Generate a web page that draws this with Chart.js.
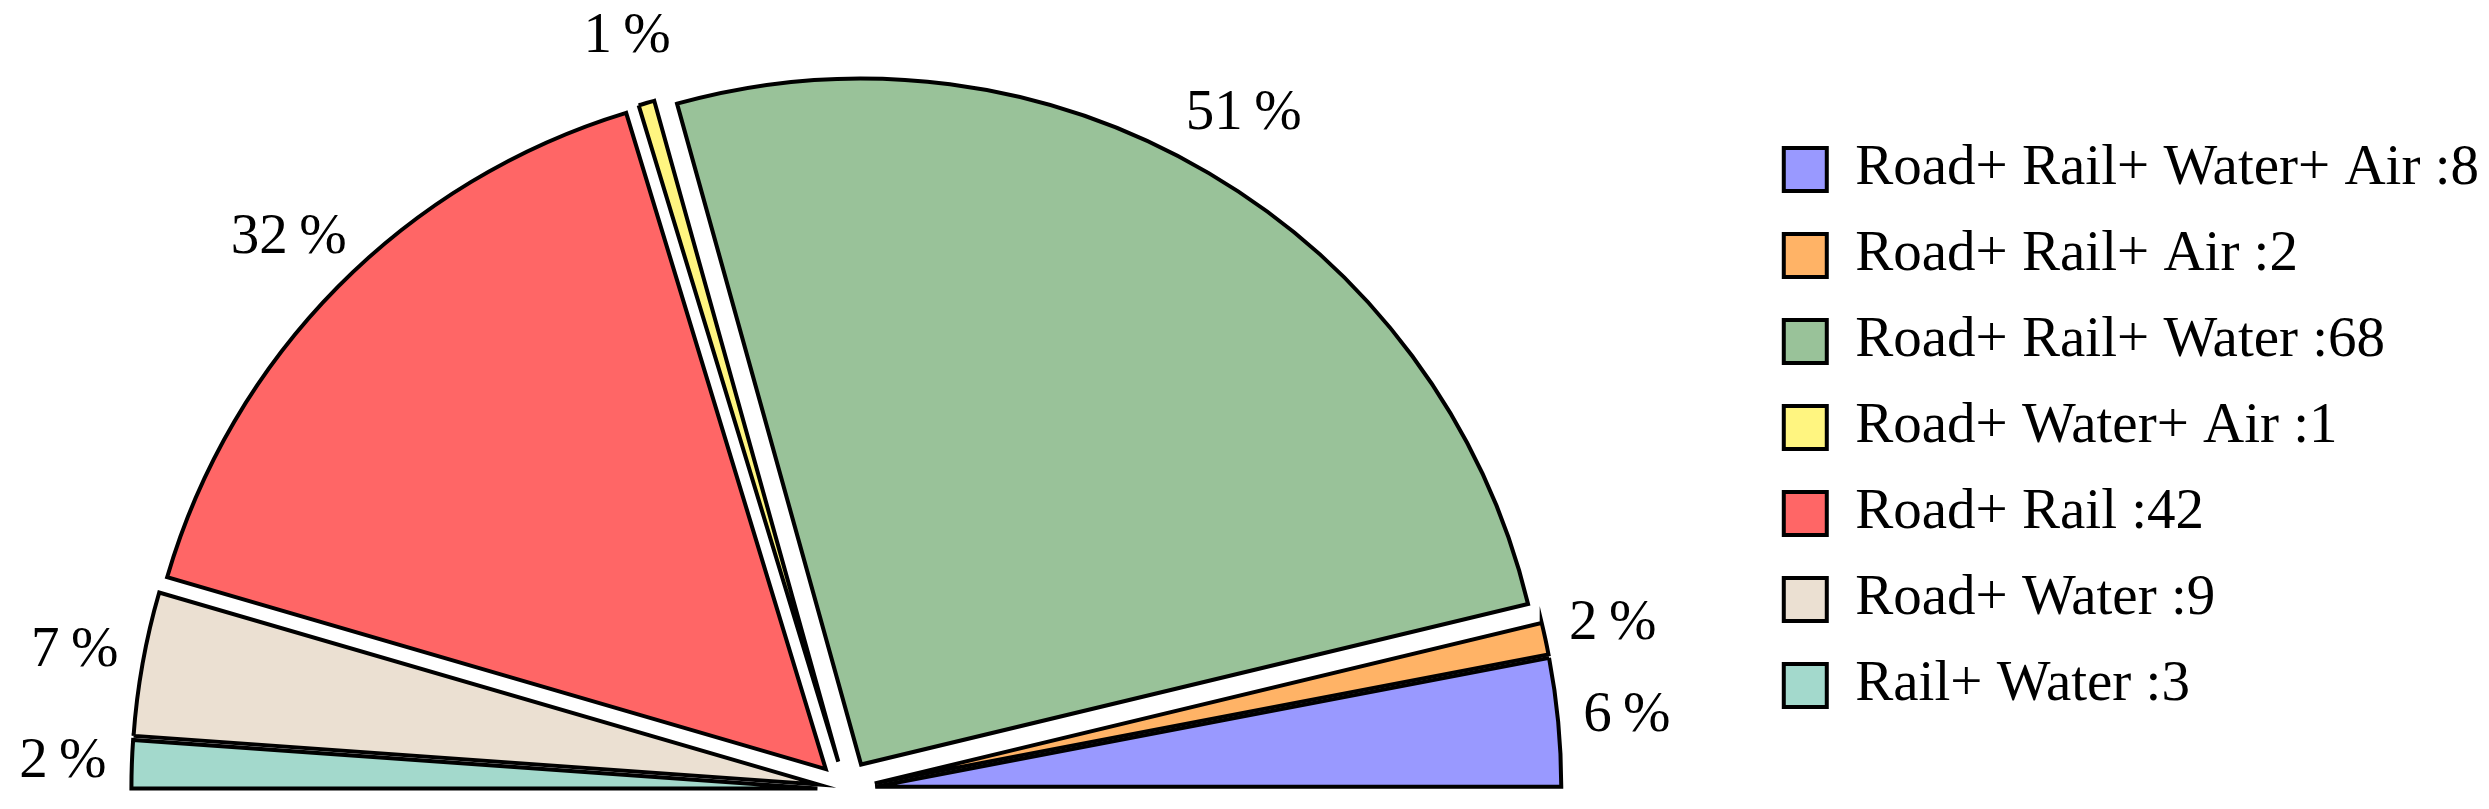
<!DOCTYPE html>
<html>
<head>
<meta charset="utf-8">
<title>Transport modes</title>
<script src="https://cdn.jsdelivr.net/npm/chart.js@4.4.1/dist/chart.umd.min.js"></script>
<style>
  html, body { margin: 0; padding: 0; background: #fff; }
  canvas { display: block; }
</style>
</head>
<body>
<canvas id="modeChart" width="2489" height="809"></canvas>
<script>
// Combinaisons de modes (ordre de la légende)
const categories = [
    'Road+ Rail+ Water+ Air',
    'Road+ Rail+ Air',
    'Road+ Rail+ Water',
    'Road+ Water+ Air',
    'Road+ Rail',
    'Road+ Water',
    'Rail+ Water'
];
const counts = [8, 2, 68, 1, 42, 9, 3];
const sliceColors = ['#9999FF', '#FFB366', '#99C299', '#FFF580', '#FF6666', '#EBE0D2', '#A3D9CC'];

const FONT = 'Liberation Serif';
const total = counts.reduce((a, b) => a + b, 0);

// Chart.js tourne dans le sens horaire : on part de la gauche, donc ordre inversé
const order = categories.map((_, i) => i).reverse();
const labels = order.map(i => categories[i] + ' :' + counts[i]);
const values = order.map(i => counts[i]);
const colors = order.map(i => sliceColors[i]);

// Parts "éclatées" : chaque part est décalée le long de sa bissectrice
const explodePlugin = {
    id: 'explode',
    beforeDatasetDraw(chart, args, opts) {
        const ctx = chart.ctx;
        args.meta.data.forEach(arc => {
            const mid = (arc.startAngle + arc.endAngle) / 2;
            ctx.save();
            ctx.translate(Math.cos(mid) * opts.distance, Math.sin(mid) * opts.distance);
            arc.draw(ctx);
            ctx.restore();
        });
        return false;
    }
};

// Pourcentages à l'extérieur de la tarte
const percentPlugin = {
    id: 'percentLabels',
    afterDatasetsDraw(chart, args, opts) {
        const ctx = chart.ctx;
        const meta = chart.getDatasetMeta(0);
        const data = chart.data.datasets[0].data;
        ctx.save();
        ctx.font = opts.font;
        ctx.fillStyle = '#000';
        ctx.textAlign = 'center';
        ctx.textBaseline = 'middle';
        meta.data.forEach((arc, i) => {
            const mid = (arc.startAngle + arc.endAngle) / 2;
            const r = arc.outerRadius + opts.distance;
            const pct = Math.round(data[i] / total * 100);
            ctx.fillText(pct + '\u2009%', arc.x + Math.cos(mid) * r, arc.y + Math.sin(mid) * r);
        });
        ctx.restore();
    }
};

// Boîte vide entre la zone du graphique et la légende
const legendGapPlugin = {
    id: 'legendGap',
    start(chart, args, opts) {
        Chart.layouts.addBox(chart, {
            position: 'right',
            weight: 0,
            fullSize: false,
            options: {},
            isHorizontal() { return false; },
            update(maxWidth, maxHeight) {
                this.width = opts.width;
                this.height = maxHeight;
            },
            draw() {}
        });
    }
};

const ctx = document.getElementById('modeChart').getContext('2d');
const chart = new Chart(ctx, {
    type: 'pie',
    data: {
        labels: labels,
        datasets: [{
            data: values,
            backgroundColor: colors,
            borderColor: '#000',
            borderWidth: 4,
            borderJoinStyle: 'miter',
            hoverOffset: 0
        }]
    },
    options: {
        responsive: false,
        devicePixelRatio: 1,
        animation: false,
        events: [],
        rotation: -90,
        circumference: 180,
        radius: 686,
        layout: {
            padding: { left: 0, right: 0, top: 112, bottom: 28 }
        },
        plugins: {
            explode: { distance: 29 },
            percentLabels: { distance: 98, font: '57px "' + FONT + '"' },
            legendGap: { width: 62 },
            tooltip: { enabled: false },
            legend: {
                position: 'right',
                align: 'start',
                reverse: true,
                maxWidth: 900,
                labels: {
                    color: '#000',
                    font: { family: FONT, size: 57 },
                    boxWidth: 43,
                    boxHeight: 43,
                    padding: 29
                }
            }
        }
    },
    plugins: [explodePlugin, percentPlugin, legendGapPlugin]
});
</script>
</body>
</html>
